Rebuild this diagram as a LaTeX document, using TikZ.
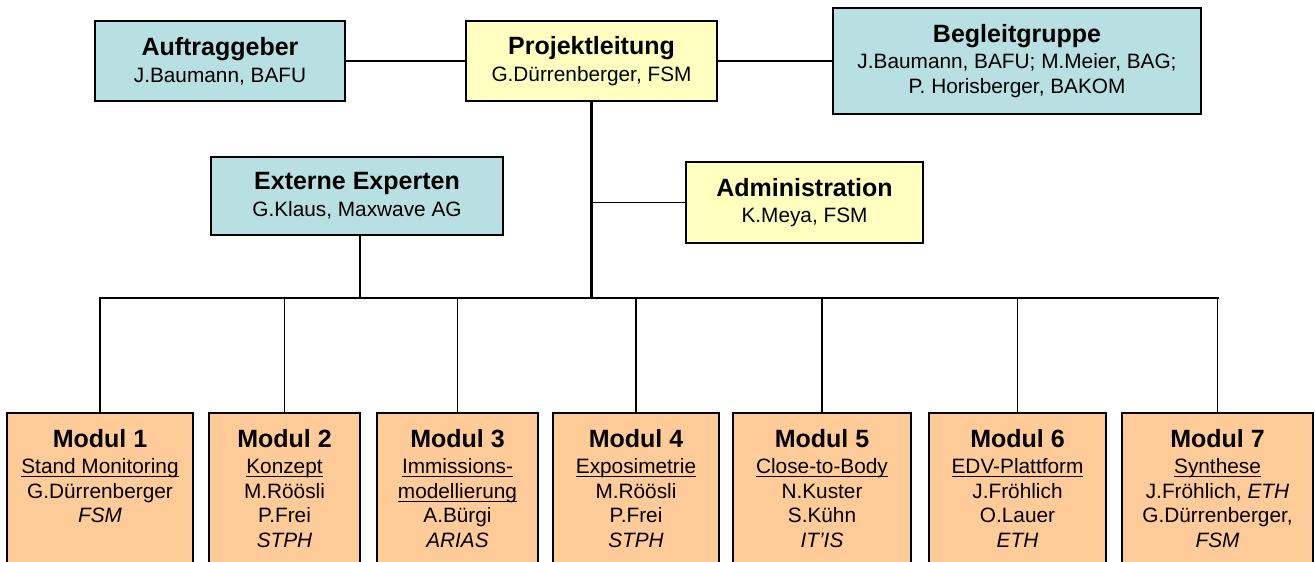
\documentclass[tikz,border=0pt]{standalone}
\usepackage{fontspec}
\setmainfont{Liberation Sans}
\definecolor{bluefill}{RGB}{184,223,226}
\definecolor{yelfill}{RGB}{255,255,192}
\definecolor{orfill}{RGB}{255,204,153}
\newcommand\boxtitle[1]{{\fontsize{25}{25}\selectfont\bfseries #1}}
\newsavebox\ulinebox
\newcommand\ulined[1]{\sbox\ulinebox{#1}\rlap{\rule[-3.6pt]{\wd\ulinebox}{1.1pt}}\usebox\ulinebox}
\begin{document}
\begin{tikzpicture}[x=1pt,y=-1pt,
  box/.style={draw=black, line width=1.6pt, inner sep=0pt, align=center,
    font=\fontsize{20.8}{24.7}\selectfont},
  bluebox/.style={box, fill=bluefill},
  yelbox/.style={box, fill=yelfill},
  modbox/.style={draw=black, line width=1.6pt, fill=orfill, anchor=north,
    minimum height=180, inner sep=0pt},
  modtext/.style={anchor=north, inner sep=0pt, align=center,
    font=\fontsize{20.8}{24.7}\selectfont},
  link/.style={line width=1.8pt},
  thinlink/.style={line width=1.5pt},
  bus/.style={line width=2.8pt, line cap=rect}]
\useasboundingbox (0,0) rectangle (1315,562);
\clip (0,0) rectangle (1315,562);

% top row
\node[bluebox, minimum width=250, minimum height=80] (auf) at (220,61)
  {\boxtitle{Auftraggeber}\\[2pt]J.Baumann, BAFU};
\node[yelbox, minimum width=251, minimum height=80] (pl) at (591.5,61)
  {\boxtitle{Projektleitung}\\[2pt]G.Dürrenberger, FSM};
\node[bluebox, minimum width=368, minimum height=106] (beg) at (1017,61)
  {\boxtitle{Begleitgruppe}\\[1.5pt]J.Baumann, BAFU; M.Meier, BAG;\\P. Horisberger, BAKOM};

% middle row
\node[bluebox, minimum width=292, minimum height=78] (ext) at (357,196)
  {\boxtitle{Externe Experten}\\[2pt]G.Klaus, Maxwave AG};
\node[yelbox, minimum width=237, minimum height=81] (adm) at (804.5,202.5)
  {\boxtitle{Administration}\\[2pt]K.Meya, FSM};

% modules
\node[modbox, minimum width=186] (m1) at (100,412) {};
\node[modbox, minimum width=151] (m2) at (284.5,412) {};
\node[modbox, minimum width=161] (m3) at (457.5,412) {};
\node[modbox, minimum width=166] (m4) at (636,412) {};
\node[modbox, minimum width=178] (m5) at (822,412) {};
\node[modbox, minimum width=177] (m6) at (1017.5,412) {};
\node[modbox, minimum width=191] (m7) at (1217.5,412) {};

\node[modtext] (m1t) at (100,429)
  {\boxtitle{Modul 1}\\[1.5pt]\ulined{Stand Monitoring}\\G.Dürrenberger\\\textit{FSM}};
\node[modtext] (m2t) at (284.5,429)
  {\boxtitle{Modul 2}\\[1.5pt]\ulined{Konzept}\\M.Röösli\\P.Frei\\\textit{STPH}};
\node[modtext] (m3t) at (457.5,429)
  {\boxtitle{Modul 3}\\[1.5pt]\ulined{Immissions-}\\\ulined{modellierung}\\A.Bürgi\\\textit{ARIAS}};
\node[modtext] (m4t) at (636,429)
  {\boxtitle{Modul 4}\\[1.5pt]\ulined{Exposimetrie}\\M.Röösli\\P.Frei\\\textit{STPH}};
\node[modtext] (m5t) at (822,429)
  {\boxtitle{Modul 5}\\[1.5pt]\ulined{Close-to-Body}\\N.Kuster\\S.Kühn\\\textit{IT’IS}};
\node[modtext] (m6t) at (1017.5,429)
  {\boxtitle{Modul 6}\\[1.5pt]\ulined{EDV-Plattform}\\J.Fröhlich\\O.Lauer\\\textit{ETH}};
\node[modtext] (m7t) at (1217.5,429)
  {\boxtitle{Modul 7}\\[1.5pt]\ulined{Synthese}\\J.Fröhlich, \textit{ETH}\\G.Dürrenberger,\\\textit{FSM}};

% connectors
\coordinate (busL) at (100,298);
\coordinate (busR) at (1217.5,298);
\coordinate (trunk) at (pl.south |- busL);
\coordinate (extdrop) at ([xshift=3pt]ext.south);
\draw[link] (auf.east) -- (pl.west);
\draw[link] (pl.east) -- (beg.west);
\draw[bus] (busL) -- (busR);
\draw[bus, line cap=butt] (pl.south) -- (trunk);
\draw[thinlink] (adm.west) -- (adm.west -| pl.south);
\draw[thinlink] (extdrop) -- (extdrop |- busL);
\foreach \m in {m1,m2,m3,m4,m5,m6,m7}
  \draw[link] (\m.north) -- (\m.north |- busL);
\end{tikzpicture}
\end{document}
